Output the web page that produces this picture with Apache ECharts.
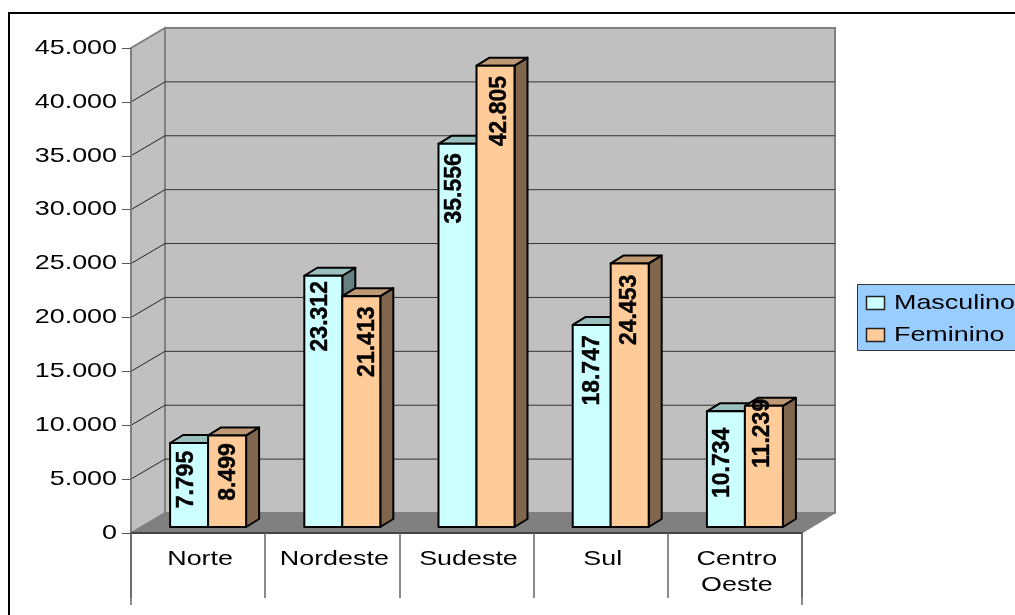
<!DOCTYPE html>
<html>
<head>
<meta charset="utf-8">
<title>Masculino / Feminino por região</title>
<style>
    html, body { margin: 0; padding: 0; background: #fff; overflow: hidden; }
    #chart { width: 1015px; height: 615px; }
</style>
<script src="https://cdn.jsdelivr.net/npm/echarts@6/dist/echarts.min.js"></script>
</head>
<body>
<div id="chart"></div>
<script>
const categories = ['Norte', 'Nordeste', 'Sudeste', 'Sul', 'Centro\nOeste'];
const masculino = [7795, 23312, 35556, 18747, 10734];
const feminino = [8499, 21413, 42805, 24453, 11239];
const yTicks = [0, 5000, 10000, 15000, 20000, 25000, 30000, 35000, 40000, 45000];
const seriesNames = ['Masculino', 'Feminino'];

// rotated labels: distance from the bar top to the label start, and shift from the bar centre
const mascGap = [7, 5, 9, 10, 16];
const femGap = [7, 10, 10, 11, -8];
const mascShift = [-3, -3, -3, 1, -4];
const femShift = [1, 6, 4, 0, -2];

const FONT = '21px "Liberation Sans", Arial, sans-serif';
const LABEL_FONT = 'bold 23px "Liberation Sans", Arial, sans-serif';
const STRETCH = 1.28;
const LABEL_LEN = 71;

// 3d offsets
const DX = 34, DY = -20;      // front plane -> back wall
const BX = 10, BY = -6;       // front plane -> bar front face
const SX = 13, SY = -8;       // bar depth

function fmt(v) {
    return String(v).replace(/\B(?=(\d{3})+$)/g, '.');
}

function xy(v) {
    return v.map(function (d, i) { return [i, d]; });
}

function renderWalls(params, api) {
    const c = params.coordSys;
    const l = c.x, r = c.x + c.width, t = c.y, b = c.y + c.height;
    const rb = r + DX - 1;
    const edge = { fill: '#c0c0c0', stroke: '#808080', lineWidth: 2 };
    return {
        type: 'group',
        children: [
            { type: 'polygon', shape: { points: [[l + DX, t + DY], [rb, t + DY], [rb, b + DY], [l + DX, b + DY]] }, style: edge },
            { type: 'polygon', shape: { points: [[l, b], [l + DX, b + DY], [l + DX, t + DY], [l, t]] }, style: edge },
            { type: 'polygon', shape: { points: [[l, b], [r, b], [rb, b + DY], [l + DX, b + DY]] }, style: { fill: '#808080', stroke: '#808080', lineWidth: 1 } },
            { type: 'line', shape: { x1: l, y1: b, x2: l, y2: b + 72 }, style: { stroke: '#666', lineWidth: 1.5 } },
            { type: 'line', shape: { x1: r, y1: b, x2: r, y2: b + 72 }, style: { stroke: '#666', lineWidth: 1.5 } }
        ]
    };
}

function renderTick(params, api) {
    const c = params.coordSys;
    const v = api.value(1);
    const p = api.coord([0, v]);
    const l = c.x, r = c.x + c.width;
    const children = [{
        type: 'text',
        x: l - 14,
        y: p[1],
        scaleX: STRETCH,
        style: { text: fmt(v), font: FONT, fill: '#000', align: 'right', verticalAlign: 'middle' }
    }];
    if (v > 0 && v < 45000) {
        children.push(
            { type: 'line', shape: { x1: l, y1: p[1], x2: l + DX, y2: p[1] + DY }, style: { stroke: '#222', lineWidth: 1 } },
            { type: 'line', shape: { x1: l + DX, y1: p[1] + DY, x2: r + DX - 1, y2: p[1] + DY }, style: { stroke: '#333', lineWidth: 1 } }
        );
    }
    return { type: 'group', children: children };
}

function renderCategory(params, api) {
    const p = api.coord([api.value(0), 0]);
    return {
        type: 'text',
        x: p[0] + 2,
        y: p[1] + 13,
        scaleX: STRETCH,
        style: { text: categories[api.value(0)], font: FONT, fill: '#000', align: 'center', verticalAlign: 'top', lineHeight: 26 }
    };
}

function barRenderer(side, front, top, dark, gaps, shifts) {
    return function (params, api) {
        const i = api.value(0);
        const v = api.value(1);
        const w = api.size([1, 0])[0] * 38 / 134.2;
        const base = api.coord([i, 0]);
        const head = api.coord([i, v]);
        const x1 = base[0] + BX + (side < 0 ? -w : 0);
        const x2 = x1 + w;
        const y1 = head[1] + BY;
        const y2 = base[1] + BY;
        const border = { stroke: '#000', lineWidth: 2, lineJoin: 'round' };
        const text = fmt(v);
        const len = LABEL_LEN * text.length / 6;
        return {
            type: 'group',
            children: [
                { type: 'polygon', shape: { points: [[x2, y1], [x2 + SX, y1 + SY], [x2 + SX, y2 + SY], [x2, y2]] }, style: Object.assign({ fill: dark }, border) },
                { type: 'polygon', shape: { points: [[x1, y1], [x1 + SX, y1 + SY], [x2 + SX, y1 + SY], [x2, y1]] }, style: Object.assign({ fill: top }, border) },
                { type: 'polygon', shape: { points: [[x1, y1], [x2, y1], [x2, y2], [x1, y2]] }, style: Object.assign({ fill: front }, border) },
                {
                    type: 'text',
                    x: (x1 + x2) / 2 + shifts[i],
                    y: y1 + gaps[i] + len / 2,
                    rotation: Math.PI / 2,
                    scaleY: 1.05,
                    style: { text: text, font: LABEL_FONT, fill: '#000', stroke: '#000', lineWidth: 0.4, align: 'center', verticalAlign: 'middle' }
                }
            ]
        };
    };
}

const option = {
    animation: false,
    backgroundColor: '#fff',
    tooltip: { show: false },
    grid: { left: 131, top: 48, width: 671, height: 485 },
    xAxis: {
        type: 'category',
        data: categories,
        z: 3,
        axisLine: { lineStyle: { color: '#444', width: 2 } },
        axisTick: { show: true, interval: 0, length: 65, lineStyle: { color: '#666', width: 1.5 } },
        axisLabel: { show: false, interval: 0 }
    },
    yAxis: {
        type: 'value',
        min: 0,
        max: 45000,
        interval: 5000,
        z: 3,
        axisLine: { show: true, lineStyle: { color: '#808080', width: 2 } },
        axisTick: { show: true, length: 9, lineStyle: { color: '#555', width: 1 } },
        axisLabel: { show: false },
        splitLine: { show: false }
    },
    series: [
        { type: 'custom', z: 1, silent: true, renderItem: renderWalls, data: [[0, 0]], encode: { x: 0, y: 1 } },
        { type: 'custom', z: 2, silent: true, renderItem: renderTick, data: yTicks.map(function (t) { return [0, t]; }), encode: { x: 0, y: 1 } },
        { type: 'custom', z: 2, silent: true, renderItem: renderCategory, data: xy(categories.map(function () { return 0; })), encode: { x: 0, y: 1 } },
        {
            type: 'custom', name: seriesNames[0], z: 4,
            renderItem: barRenderer(-1, '#ccffff', '#99bfbf', '#668080', mascGap, mascShift),
            data: xy(masculino), encode: { x: 0, y: 1 }
        },
        {
            type: 'custom', name: seriesNames[1], z: 5,
            renderItem: barRenderer(1, '#ffcc99', '#bf9973', '#80664d', femGap, femShift),
            data: xy(feminino), encode: { x: 0, y: 1 }
        }
    ],
    graphic: [
        { type: 'rect', z: 0, shape: { x: 9, y: 13, width: 1100, height: 700 }, style: { fill: 'transparent', stroke: '#000', lineWidth: 2 } },
        { type: 'rect', z: 6, shape: { x: 857.5, y: 284.5, width: 200, height: 66 }, style: { fill: '#99ccff', stroke: '#333', lineWidth: 1 } },
        { type: 'rect', z: 7, shape: { x: 866.5, y: 296.5, width: 18, height: 13 }, style: { fill: '#ccffff', stroke: '#222', lineWidth: 1.5 } },
        { type: 'rect', z: 7, shape: { x: 866.5, y: 328.5, width: 18, height: 13 }, style: { fill: '#ffcc99', stroke: '#222', lineWidth: 1.5 } },
        { type: 'text', z: 7, x: 894, y: 303, scaleX: STRETCH, style: { text: seriesNames[0], font: FONT, fill: '#000', align: 'left', verticalAlign: 'middle' } },
        { type: 'text', z: 7, x: 894, y: 335, scaleX: STRETCH, style: { text: seriesNames[1], font: FONT, fill: '#000', align: 'left', verticalAlign: 'middle' } }
    ]
};

const chart = echarts.init(document.getElementById('chart'));
chart.setOption(option);
</script>
</body>
</html>
